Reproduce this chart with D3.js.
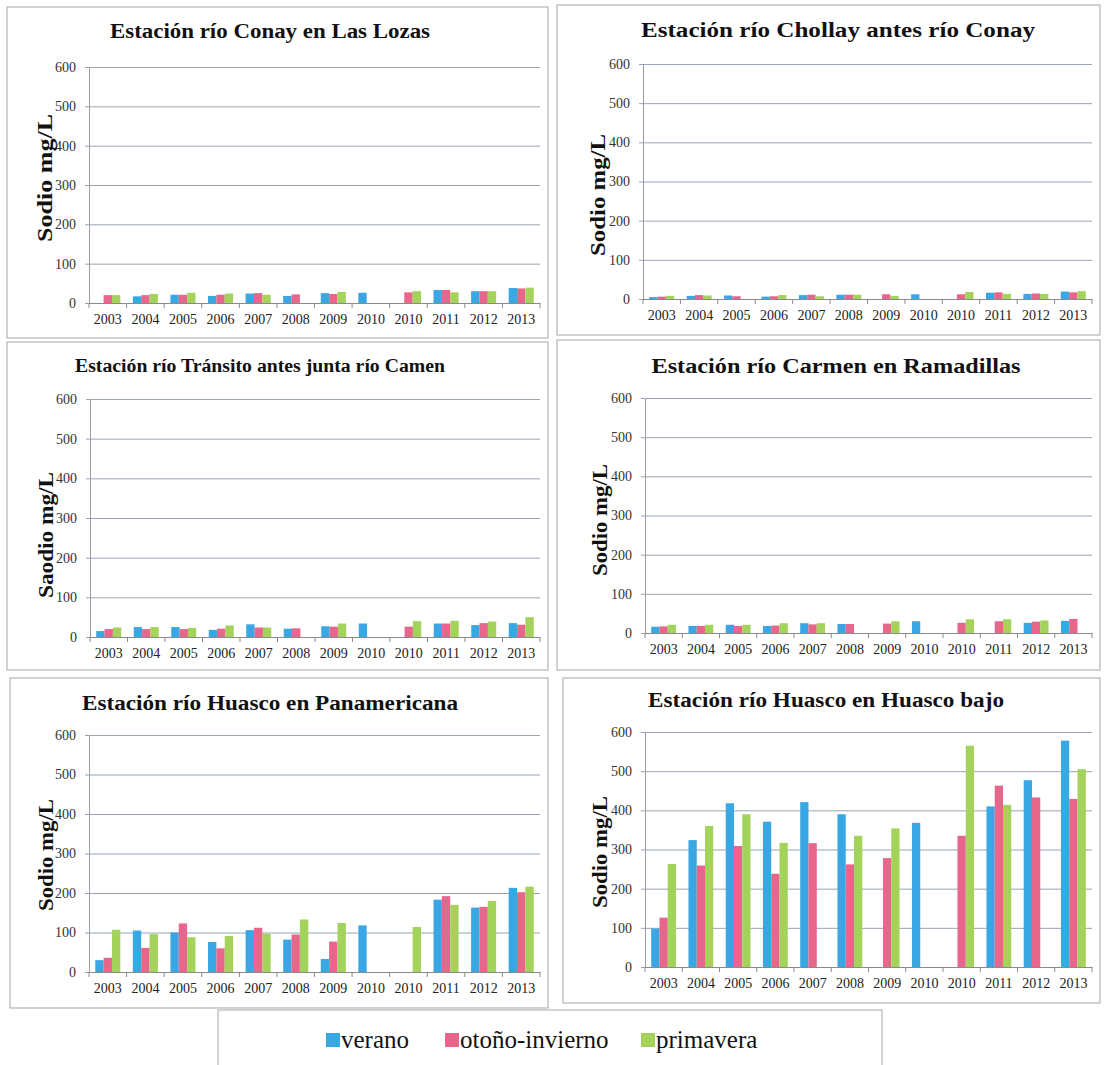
<!DOCTYPE html>
<html>
<head>
<meta charset="utf-8">
<script src="https://cdn.jsdelivr.net/npm/d3@7/dist/d3.min.js"></script>
<style>
  html, body { margin: 0; padding: 0; background: #ffffff; }
  svg { display: block; }
</style>
</head>
<body>
<svg id="chart" width="1104" height="1065"></svg>
<script>
// Sodium concentration (mg/L) by season, Huasco basin monitoring stations
const categories = ["2003", "2004", "2005", "2006", "2007", "2008", "2009", "2010", "2010", "2011", "2012", "2013"];
const seasons = ["verano", "otoño-invierno", "primavera"];
const yTicks = [0, 100, 200, 300, 400, 500, 600];

const conayVerano     = [null, 17, 21, 18, 24, 18, 25, 26, null, 33, 30, 38];
const conayOtono      = [20, 20, 21, 21, 25, 22, 23, null, 27, 33, 30, 37];
const conayPrimavera  = [20, 23, 26, 24, 21, null, 28, null, 30, 27, 30, 39];

const chollayVerano    = [5, 8, 9, 6, 10, 11, null, 12, null, 16, 13, 19];
const chollayOtono     = [6, 10, 7, 7, 11, 11, 12, null, 12, 17, 14, 17];
const chollayPrimavera = [8, 9, null, 10, 7, 11, 8, null, 18, 13, 13, 20];

const transitoVerano    = [15, 25, 25, 18, 32, 21, 27, 34, null, 34, 30, 35];
const transitoOtono     = [20, 20, 20, 21, 24, 22, 26, null, 26, 34, 35, 31];
const transitoPrimavera = [24, 25, 23, 29, 24, null, 34, null, 40, 41, 39, 50];

const carmenVerano    = [16, 18, 21, 18, 25, 23, null, 30, null, null, 26, 31];
const carmenOtono     = [17, 18, 18, 19, 22, 23, 24, null, 26, 30, 29, 36];
const carmenPrimavera = [21, 21, 21, 25, 25, null, 30, null, 35, 35, 32, null];

const panamVerano    = [30, 105, 100, 76, 106, 82, 33, 118, null, 183, 163, 213];
const panamOtono     = [36, 61, 123, 60, 112, 95, 77, null, null, 192, 165, 202];
const panamPrimavera = [107, 96, 88, 91, 97, 133, 124, null, 114, 170, 180, 216];

const bajoVerano    = [98, 324, 418, 371, 421, 390, null, 368, null, 410, 477, 578];
const bajoOtono     = [126, 259, 309, 238, 316, 262, 278, null, 335, 463, 433, 429];
const bajoPrimavera = [263, 360, 390, 317, null, 335, 354, null, 565, 414, null, 505];

const stationTitles = [
  "Estación río Conay en Las Lozas",
  "Estación río Chollay antes río Conay",
  "Estación río Tránsito antes junta río Camen",
  "Estación río Carmen en Ramadillas",
  "Estación río Huasco en Panamericana",
  "Estación río Huasco en Huasco bajo"
];
const yTitles = ["Sodio  mg/L", "Sodio  mg/L", "Saodio  mg/L", "Sodio  mg/L", "Sodio  mg/L", "Sodio  mg/L"];
const stationSeries = [
  [conayVerano, conayOtono, conayPrimavera],
  [chollayVerano, chollayOtono, chollayPrimavera],
  [transitoVerano, transitoOtono, transitoPrimavera],
  [carmenVerano, carmenOtono, carmenPrimavera],
  [panamVerano, panamOtono, panamPrimavera],
  [bajoVerano, bajoOtono, bajoPrimavera]
];

// Panel geometry (frame, plot area, title and axis-title placement)
const layout = [
  { box: [7, 7, 541, 331],   left: 89,  right: 540,  top: 67,  bottom: 303, tx: 270, ty: 38,  tw: 320, ts: 20, yx: 45,  yy: 178, yw: 128 },
  { box: [557, 5, 543, 330], left: 643, right: 1092, top: 64,  bottom: 299, tx: 838, ty: 37,  tw: 394, ts: 20, yx: 598, yy: 195, yw: 122 },
  { box: [7, 342, 541, 328], left: 90,  right: 540,  top: 399, bottom: 637, tx: 260, ty: 372, tw: 370, ts: 18, yx: 46,  yy: 535, yw: 126 },
  { box: [557, 340, 543, 330], left: 645, right: 1092, top: 398, bottom: 633, tx: 836, ty: 373, tw: 369, ts: 20, yx: 600, yy: 520, yw: 112 },
  { box: [10, 678, 538, 330], left: 89,  right: 540,  top: 735, bottom: 972, tx: 270, ty: 710, tw: 376, ts: 20, yx: 46,  yy: 855, yw: 112 },
  { box: [563, 678, 537, 325], left: 645, right: 1092, top: 732, bottom: 967, tx: 826, ty: 707, tw: 356, ts: 20, yx: 600, yy: 852, yw: 112 }
];

const serif = "Liberation Serif, Times New Roman, serif";
const colors = ["#38a7e4", "#e8668c", "#a3d35a"];
const color = d3.scaleOrdinal().domain(seasons).range(colors);

const svg = d3.select("#chart");

stationTitles.forEach((title, p) => {
  const L = layout[p];
  const series = stationSeries[p];
  const g = svg.append("g");

  // frame
  g.append("rect")
    .attr("x", L.box[0]).attr("y", L.box[1])
    .attr("width", L.box[2]).attr("height", L.box[3])
    .attr("fill", "#ffffff").attr("stroke", "#b4b4b4").attr("stroke-width", 1.2);

  const x = d3.scaleBand()
    .domain(d3.range(categories.length))
    .range([L.left, L.right])
    .paddingInner(1 / 3)
    .paddingOuter(1 / 6);
  const xs = d3.scaleBand().domain(seasons).range([0, x.bandwidth()]);
  const y = d3.scaleLinear().domain([0, 600]).range([L.bottom, L.top]);

  // horizontal gridlines with the value axis
  const yAxis = g.append("g")
    .attr("transform", `translate(${L.left},0)`)
    .call(d3.axisLeft(y).tickValues(yTicks).tickSizeInner(-(L.right - L.left)).tickSizeOuter(0).tickPadding(13))
    .attr("font-family", serif).attr("font-size", 14);
  yAxis.select(".domain").attr("stroke", "#9a9a9a");
  yAxis.selectAll(".tick line").attr("stroke", "#98a4b4").attr("stroke-width", 1).attr("x1", -4);
  yAxis.selectAll(".tick text").attr("fill", "#333333");

  // bars
  categories.forEach((c, i) => {
    seasons.forEach((s, k) => {
      const v = series[k][i];
      if (v == null) return;
      g.append("rect")
        .attr("x", x(i) + xs(s))
        .attr("y", y(v))
        .attr("width", xs.bandwidth())
        .attr("height", y(0) - y(v))
        .attr("fill", color(s));
    });
  });

  // category axis
  const xAxis = g.append("g")
    .attr("transform", `translate(0,${L.bottom})`)
    .call(d3.axisBottom(x).tickFormat(i => categories[i]).tickSize(0).tickPadding(11))
    .attr("font-family", serif).attr("font-size", 14);
  xAxis.select(".domain").attr("stroke", "#8a8a8a");
  xAxis.selectAll(".tick text").attr("fill", "#222222");
  // tick marks between categories
  xAxis.selectAll(".sep")
    .data(d3.range(categories.length + 1))
    .join("line")
    .attr("class", "sep")
    .attr("x1", k => L.left + k * x.step())
    .attr("x2", k => L.left + k * x.step())
    .attr("y1", 0).attr("y2", 5)
    .attr("stroke", "#8a8a8a");

  // chart title
  g.append("text")
    .attr("x", L.tx).attr("y", L.ty)
    .attr("text-anchor", "middle")
    .attr("textLength", L.tw).attr("lengthAdjust", "spacingAndGlyphs")
    .attr("font-family", serif)
    .attr("font-size", L.ts).attr("font-weight", "bold")
    .attr("fill", "#111")
    .text(title);

  // value axis title
  g.append("text")
    .attr("transform", `translate(${L.yx},${L.yy}) rotate(-90)`)
    .attr("text-anchor", "middle")
    .attr("dy", "0.35em")
    .attr("textLength", L.yw).attr("lengthAdjust", "spacingAndGlyphs")
    .attr("font-family", serif)
    .attr("font-size", 21).attr("font-weight", "bold")
    .attr("fill", "#111")
    .text(yTitles[p]);
});

// legend
const legend = svg.append("g");
legend.append("rect")
  .attr("x", 218).attr("y", 1010).attr("width", 664).attr("height", 62)
  .attr("fill", "#ffffff").attr("stroke", "#b4b4b4").attr("stroke-width", 1.2);
const legendX = [326, 445, 641];
seasons.forEach((s, k) => {
  legend.append("rect")
    .attr("x", legendX[k]).attr("y", 1033).attr("width", 14).attr("height", 14)
    .attr("fill", color(s));
  legend.append("text")
    .attr("x", legendX[k] + 15).attr("y", 1048)
    .attr("font-family", serif)
    .attr("font-size", 25).attr("fill", "#111")
    .text(s);
});
</script>
</body>
</html>
